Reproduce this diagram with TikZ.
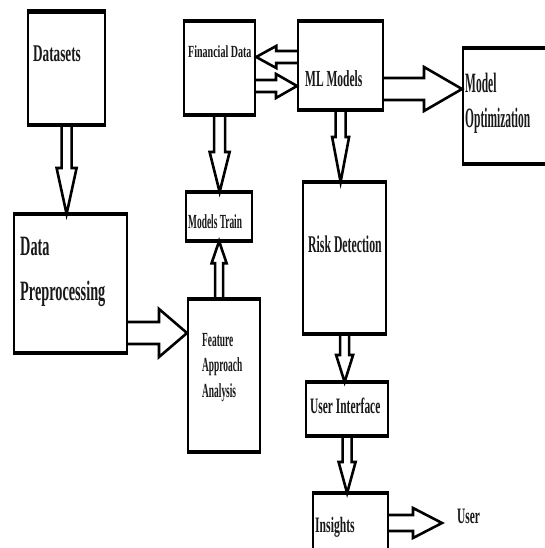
\documentclass[tikz,border=0pt]{standalone}
\usepackage{fontspec}
\setmainfont{Liberation Serif}
\usetikzlibrary{calc}
\newcommand\cf[2]{\fontspec{Liberation Serif}[FakeStretch=#1]\bfseries\fontsize{#2}{#2}\selectfont}
% hollow block arrow: tail, tip, shaft half width, head half width, head length
\newcommand\harr[5]{%
  \coordinate (hb) at ($(#2)!#5!(#1)$);
  \draw[arr] ($(#1)!#3!90:(#2)$) -- ($(hb)!#3!-90:(#1)$) -- ($(hb)!#4!-90:(#1)$) -- (#2)
    -- ($(hb)!#4!90:(#1)$) -- ($(hb)!#3!90:(#1)$) -- ($(#1)!#3!-90:(#2)$);}
\begin{document}
\begin{tikzpicture}[x=1pt,y=-1pt,
  box/.style={draw, line width=2.2pt, inner sep=0pt, anchor=north west},
  arr/.style={draw, line width=2.6pt, line join=miter},
  edge/.style={line width=3.6pt},
  lbl/.style={anchor=base west, inner sep=0pt, text=black!90}]
\useasboundingbox (0,0) rectangle (545,548);
\clip (0,0) rectangle (545,548);
\fill[white] (0,0) rectangle (545,548);
% boxes
\node[box, minimum width=77pt,  minimum height=111pt] (ds) at (27,12)  {};
\node[box, minimum width=113pt, minimum height=137pt] (dp) at (13,214) {};
\node[box, minimum width=71pt,  minimum height=92pt]  (fd) at (183,21) {};
\node[box, minimum width=66pt,  minimum height=47pt]  (mt) at (185,192) {};
\node[box, minimum width=72pt,  minimum height=151pt] (fa) at (187,299) {};
\node[box, minimum width=85pt,  minimum height=87pt]  (ml) at (297,21) {};
\node[box, minimum width=95pt,  minimum height=114pt] (mo) at (462,48) {};
\node[box, minimum width=83pt,  minimum height=150pt] (rd) at (302,182) {};
\node[box, minimum width=82pt,  minimum height=52pt]  (ui) at (305,382) {};
\node[box, minimum width=75pt,  minimum height=70pt]  (in) at (312,493) {};
% thicker horizontal edges
\foreach \n in {dp,fd,mt,fa,ml,mo,rd,ui,in}
  \draw[edge] (\n.north west) -- (\n.north east) (\n.south west) -- (\n.south east);
\draw[line width=5pt] (ds.north west) -- (ds.north east);
\draw[edge] (ds.south west) -- (ds.south east);
% labels
\node[lbl] (tds)  at (33,62)   {\cf{0.55}{24}Datasets};
\node[lbl] (tdp1) at (20,255)  {\cf{0.51}{28}Data};
\node[lbl] (tdp2) at (20,300)  {\cf{0.51}{28}Preprocessing};
\node[lbl] (tfd)  at (188,58)  {\cf{0.59}{17}Financial Data};
\node[lbl] (tmt)  at (188,228) {\cf{0.47}{20}Models Train};
\node[lbl] (tfa1) at (202,346) {\cf{0.47}{20}Feature};
\node[lbl] (tfa2) at (202,371) {\cf{0.47}{20}Approach};
\node[lbl] (tfa3) at (202,397) {\cf{0.47}{20}Analysis};
\node[lbl] (tml)  at (305,87)  {\cf{0.5}{23}ML Models};
\node[lbl] (tmo1) at (465,93)  {\cf{0.41}{28}Model};
\node[lbl] (tmo2) at (465,128) {\cf{0.41}{28}Optimization};
\node[lbl] (trd)  at (308,252) {\cf{0.49}{24}Risk Detection};
\node[lbl] (tui)  at (310,413) {\cf{0.52}{22}User Interface};
\node[lbl] (tin)  at (315,532) {\cf{0.53}{22}Insights};
\node[lbl] (user) at (457,523) {\cf{0.52}{22}User};
% connector end points
\coordinate (a1e) at (ds.south |- dp.north);
\coordinate (a2s) at (dp.east |- 0,333);
\coordinate (a2e) at (fa.west |- 0,333);
\coordinate (a3s) at (mt.south |- fa.north);
\coordinate (a4e) at (fd.south |- mt.north);
\coordinate (a5s) at (ml.west |- 0,57);
\coordinate (a5e) at (fd.east |- 0,57);
\coordinate (a6s) at (fd.east |- 0,86);
\coordinate (a6e) at (ml.west |- 0,86);
\coordinate (a7s) at (ml.east |- 0,89);
\coordinate (a7e) at (mo.west |- 0,89);
\coordinate (a8e) at (ml.south |- rd.north);
\coordinate (a9e) at (rd.south |- ui.north);
\coordinate (a10e) at (ui.south |- in.north);
\coordinate (a11s) at (in.east |- 0,523);
\coordinate (uend) at (442,523);
% connectors
\harr{ds.south}{a1e}{5pt}{10pt}{46pt}
\harr{a2s}{a2e}{11pt}{24pt}{28pt}
\harr{a3s}{mt.south}{4pt}{7.5pt}{22pt}
\harr{fd.south}{a4e}{5.5pt}{10pt}{40pt}
\harr{a5s}{a5e}{6pt}{11pt}{20pt}
\harr{a6s}{a6e}{6pt}{12pt}{21pt}
\harr{a7s}{a7e}{11pt}{22pt}{38pt}
\harr{ml.south}{a8e}{5pt}{8.5pt}{45pt}
\harr{rd.south}{a9e}{4.5pt}{8.5pt}{27pt}
\harr{ui.south}{a10e}{4.5pt}{8.5pt}{31pt}
\harr{a11s}{uend}{8pt}{15pt}{29pt}
\end{tikzpicture}
\end{document}
